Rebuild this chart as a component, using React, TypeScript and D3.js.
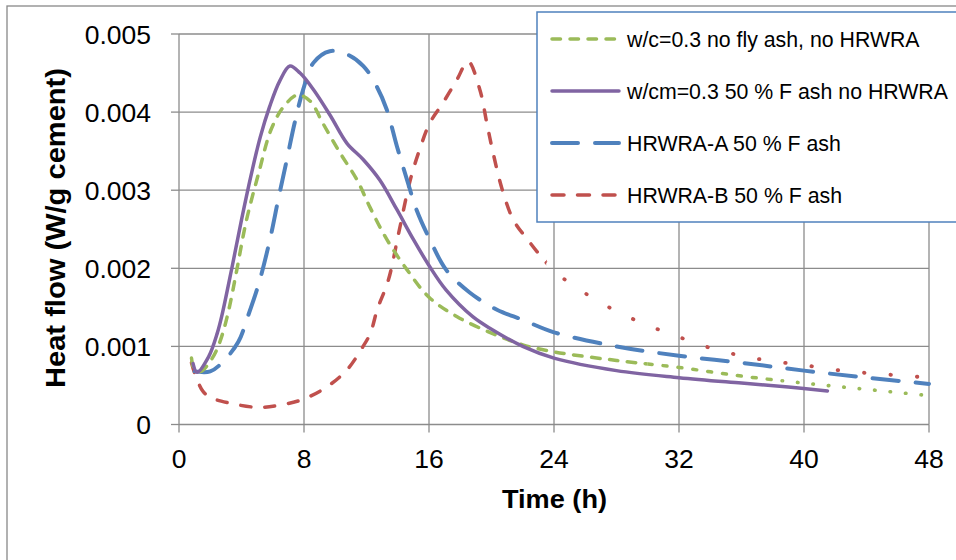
import React from "react";
import * as d3 from "d3";

// ---- data (time in h, heat flow in W/g cement) ----
const seriesNames = [
  "w/c=0.3 no fly ash, no HRWRA",
  "w/cm=0.3 50 % F ash no HRWRA",
  "HRWRA-A 50 % F ash",
  "HRWRA-B 50 % F ash",
];

const greenData: [number, number][] = [
  [0.8, 0.00085], [1.0, 0.0007], [1.4, 0.00068], [1.9, 0.00078], [2.4, 0.00095],
  [2.8, 0.00117], [3.2, 0.00148], [3.7, 0.00198], [4.3, 0.0026], [5.1, 0.00322],
  [5.9, 0.00378], [6.7, 0.00407], [7.6, 0.00422], [8.4, 0.00414], [9.2, 0.00386],
  [10.3, 0.00348], [11.4, 0.00313], [12.2, 0.00279], [13.3, 0.00237], [14.6, 0.00198],
  [16.0, 0.00163], [17.8, 0.00138], [20, 0.00117], [22, 0.00102], [24, 0.00093],
  [28, 0.00082], [32, 0.00073], [36, 0.00062], [40, 0.00053], [44, 0.00045], [48, 0.00037],
];

const purpleData: [number, number][] = [
  [0.9, 0.00078], [1.15, 0.00067], [1.9, 0.00087], [2.45, 0.00117], [2.75, 0.0014],
  [3.4, 0.00202], [4.0, 0.00262], [4.6, 0.00318], [5.2, 0.00368], [5.8, 0.00407],
  [6.45, 0.0044], [7.1, 0.00459], [7.75, 0.0045], [8.6, 0.00429], [9.7, 0.00395],
  [10.75, 0.0036], [11.8, 0.00339], [12.85, 0.00313], [13.95, 0.00275], [15.0, 0.00237],
  [16.05, 0.00202], [17.1, 0.00172], [18.8, 0.00138], [20, 0.00122], [22, 0.001],
  [24, 0.00085], [28, 0.00069], [32, 0.0006], [36, 0.00053], [39, 0.00048], [41.5, 0.00043],
];

const blueData: [number, number][] = [
  [1.0, 0.00068], [2.0, 0.00068], [2.75, 0.00079], [3.8, 0.00106], [4.4, 0.00138],
  [5.1, 0.0018], [5.8, 0.00235], [6.35, 0.00288], [6.9, 0.00339], [7.4, 0.00386],
  [7.95, 0.00429], [8.6, 0.00463], [9.65, 0.00478], [10.75, 0.00474], [11.8, 0.00459],
  [12.65, 0.00433], [13.3, 0.00403], [13.95, 0.00356], [14.6, 0.00313], [15.2, 0.00275],
  [16.05, 0.00237], [17.1, 0.00198], [18.6, 0.00169], [20.35, 0.00147], [22, 0.00134],
  [24, 0.00118], [28, 0.001], [32, 0.00088], [36, 0.00079], [40, 0.00069], [44, 0.0006], [48, 0.00052],
];

const redData: [number, number][] = [
  [0.8, 0.00079], [1.0, 0.00066], [1.55, 0.00042], [2.1, 0.00034], [3.1, 0.00028],
  [5.0, 0.00022], [6.5, 0.00025], [7.9, 0.00032], [9.45, 0.00048], [10.75, 0.0007],
  [11.75, 0.00099], [12.25, 0.00117], [12.7, 0.00148], [13.4, 0.00185], [14.1, 0.00249],
  [14.8, 0.00313], [15.4, 0.00352], [16.05, 0.00386], [16.9, 0.00412], [17.8, 0.00442],
  [18.5, 0.00465], [19.25, 0.00429], [19.7, 0.00386], [20.1, 0.00348], [20.7, 0.003],
  [21.4, 0.00262], [22.3, 0.00237], [24, 0.00197], [26, 0.00168], [28, 0.00145],
  [30, 0.00127], [32, 0.00112], [34, 0.00098], [36, 0.00088], [38, 0.00081],
  [40, 0.00076], [42, 0.0007], [44, 0.00066], [46, 0.00063], [48, 0.0006],
];

const xTicks = [0, 8, 16, 24, 32, 40, 48];
const yTicks = [0, 0.001, 0.002, 0.003, 0.004, 0.005];
const yTickLabels = ["0", "0.001", "0.002", "0.003", "0.004", "0.005"];
const xTitle = "Time (h)";
const yTitle = "Heat flow (W/g cement)";

const FONT = "'Liberation Sans', Arial, sans-serif";
const GREEN = "#9BBB59";
const PURPLE = "#8064A2";
const BLUE = "#4F81BD";
const RED = "#C0504D";
const GRID = "#8c8c8c";

export default function App() {
  const x = d3.scaleLinear().domain([0, 48]).range([179, 929]);
  const y = d3.scaleLinear().domain([0, 0.005]).range([424.5, 34]);
  const line = d3
    .line<[number, number]>()
    .x((d) => x(d[0]))
    .y((d) => y(d[1]))
    .curve(d3.curveCatmullRom.alpha(0.5));

  const clipRect = (id: string, t0: number, t1: number) => (
    <clipPath id={id} key={id}>
      <rect x={x(t0)} y={0} width={x(t1) - x(t0)} height={560} />
    </clipPath>
  );

  const legendRows = [
    { name: seriesNames[0], color: GREEN, dash: "8.5 9.5", w: 3.5 },
    { name: seriesNames[1], color: PURPLE, dash: undefined, w: 3.5 },
    { name: seriesNames[2], color: BLUE, dash: "26 17", w: 4 },
    { name: seriesNames[3], color: RED, dash: "12 13.5", w: 3.5 },
  ];
  const legendY = [39, 91, 143, 195];

  return (
    <svg
      width={956}
      height={560}
      style={{ position: "absolute", left: 0, top: 0, background: "#fff" }}
      fontFamily={FONT}
    >
      <defs>
        {clipRect("gA", -1, 30)}
        {clipRect("gB", 30, 38.6)}
        {clipRect("gC", 38.6, 60)}
        {clipRect("rA", -1, 23.5)}
        {clipRect("rB", 23.5, 60)}
      </defs>
      <rect x={0} y={0} width={956} height={560} fill="#fff" />
      <rect x={7} y={6} width={1000} height={600} fill="#fff" stroke="#888" strokeWidth={1.3} />

      {/* grid */}
      {yTicks.map((t) => (
        <line key={"gy" + t} x1={x(0)} x2={x(48)} y1={y(t)} y2={y(t)} stroke={GRID} strokeWidth={1.3} />
      ))}
      {xTicks.map((t) => (
        <line key={"gx" + t} x1={x(t)} x2={x(t)} y1={y(0.005)} y2={y(0)} stroke={GRID} strokeWidth={1.3} />
      ))}
      {/* ticks */}
      {yTicks.map((t) => (
        <line key={"ty" + t} x1={x(0) - 8} x2={x(0)} y1={y(t)} y2={y(t)} stroke={GRID} strokeWidth={1.3} />
      ))}
      {xTicks.map((t) => (
        <line key={"tx" + t} x1={x(t)} x2={x(t)} y1={y(0)} y2={y(0) + 8} stroke={GRID} strokeWidth={1.3} />
      ))}

      {/* tick labels */}
      {yTicks.map((t, i) => (
        <text key={"ly" + t} x={151} y={y(t) + 9.5} textAnchor="end" fontSize={26.5} fill="#000">
          {yTickLabels[i]}
        </text>
      ))}
      {xTicks.map((t) => (
        <text key={"lx" + t} x={x(t)} y={468} textAnchor="middle" fontSize={26.5} fill="#000">
          {String(t)}
        </text>
      ))}

      {/* axis titles */}
      <text x={554.5} y={508} textAnchor="middle" fontSize={26} fontWeight="bold" textLength={105} lengthAdjust="spacingAndGlyphs">
        {xTitle}
      </text>
      <text
        transform="translate(65,228) rotate(-90)"
        textAnchor="middle"
        fontSize={28}
        fontWeight="bold"
        textLength={320}
        lengthAdjust="spacingAndGlyphs"
      >
        {yTitle}
      </text>

      {/* series */}
      <g fill="none">
        <path d={line(redData) || ""} stroke={RED} strokeWidth={3.5} strokeDasharray="10 14" strokeLinecap="round" clipPath="url(#rA)" />
        <path d={line(redData) || ""} stroke={RED} strokeWidth={3.8} strokeDasharray="0.5 26" strokeLinecap="round" clipPath="url(#rB)" />
        <path d={line(blueData) || ""} stroke={BLUE} strokeWidth={4} strokeDasharray="26 17" strokeLinecap="round" />
        <path d={line(greenData) || ""} stroke={GREEN} strokeWidth={3.5} strokeDasharray="8.5 9.5" strokeLinecap="round" clipPath="url(#gA)" />
        <path d={line(greenData) || ""} stroke={GREEN} strokeWidth={3.5} strokeDasharray="4 11" strokeLinecap="round" clipPath="url(#gB)" />
        <path d={line(greenData) || ""} stroke={GREEN} strokeWidth={3.6} strokeDasharray="0.5 15" strokeLinecap="round" clipPath="url(#gC)" />
        <path d={line(purpleData) || ""} stroke={PURPLE} strokeWidth={3.5} strokeLinecap="round" />
      </g>

      {/* legend */}
      <rect x={537} y={12} width={440} height={210} fill="#fff" stroke={BLUE} strokeWidth={1.5} />
      {legendRows.map((r, i) => (
        <g key={"lg" + i}>
          <line
            x1={552}
            x2={619}
            y1={legendY[i]}
            y2={legendY[i]}
            stroke={r.color}
            strokeWidth={r.w}
            strokeDasharray={r.dash}
            strokeLinecap="round"
          />
          <text x={627} y={legendY[i] + 7.5} fontSize={21.3} fill="#000">
            {r.name}
          </text>
        </g>
      ))}
    </svg>
  );
}
